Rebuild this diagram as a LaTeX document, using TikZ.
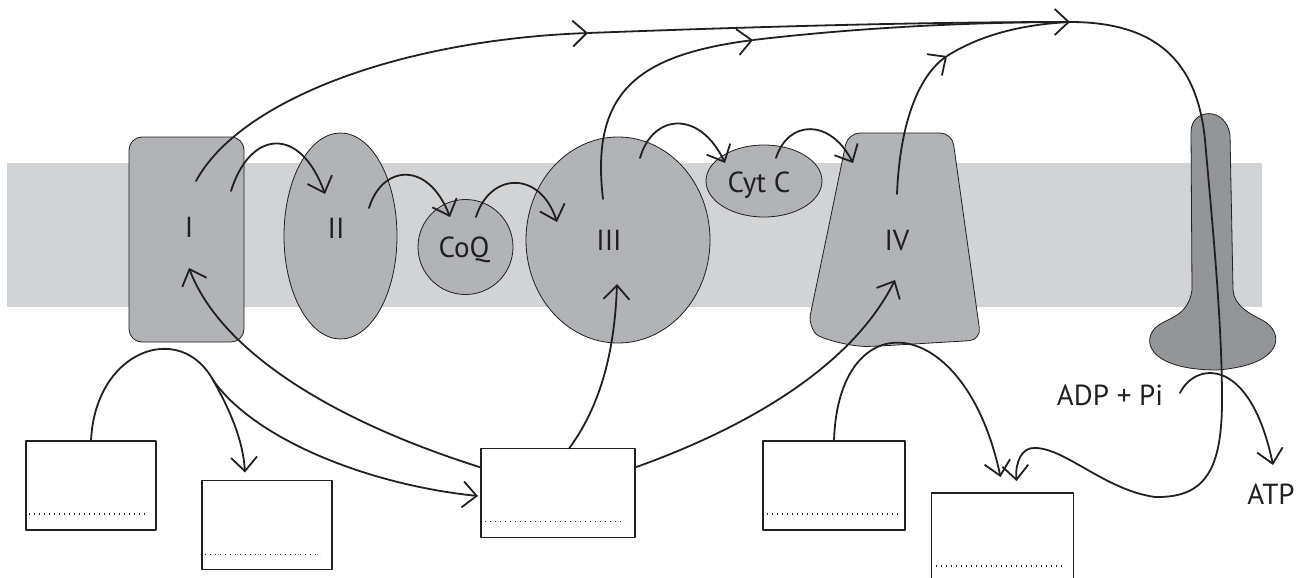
\documentclass[tikz,border=0pt]{standalone}
\usepackage{fontspec}
\setmainfont{PT Sans}
\usetikzlibrary{arrows.meta,shapes.geometric}
\definecolor{memb}{HTML}{D1D3D4}
\definecolor{cplx}{HTML}{B1B3B6}
\definecolor{atps}{HTML}{939598}
\definecolor{ink}{HTML}{231F20}
\tikzset{
  cx/.style={draw=ink, line width=0.8pt, fill=cplx, inner sep=0pt, outer sep=0pt},
  lab/.style={font=\fontsize{29}{31}\selectfont, text=ink, inner sep=0pt, anchor=base},
  flow/.style={draw=ink, line width=1.8pt},
  arr/.style={-{Straight Barb[length=14pt,width=26pt]}},
  boxn/.style={draw=ink, line width=1.8pt, fill=white, inner sep=0pt, outer sep=0pt, minimum height=89pt},
  dotl/.style={draw=ink, line width=1.4pt, dash pattern=on 1.4pt off 3.6pt, line cap=butt}
}
\begin{document}
\begin{tikzpicture}[x=1pt, y=-1pt, line join=round, line cap=round]
\useasboundingbox (0,0) rectangle (1298,578);
% membrane
\fill[memb] (7,163) rectangle (1262,307);
% complexes
\node[cx, rectangle, rounded corners=13pt, minimum width=115pt, minimum height=205pt] (cI) at (186.5,239.5) {};
\node[cx, ellipse, minimum width=113pt, minimum height=206pt] (cII) at (340.5,236) {};
\node[cx, circle, minimum size=95pt] (coq) at (465.5,247) {};
\node[cx, ellipse, minimum width=184pt, minimum height=206pt] (cIII) at (618,240) {};
\node[cx, ellipse, minimum width=116pt, minimum height=72pt] (cytc) at (764,181) {};
\draw[cx, rounded corners=12pt] (828,230) -- (848,133) -- (952,133) -- (981,340) -- (880,346)
   .. controls (850,347) and (820,338) .. (808,326) -- cycle;
\draw[cx, fill=atps] (1192,290) -- (1191,132) .. controls (1191,108) and (1226,106) .. (1230,135)
   -- (1233,290) .. controls (1234,305) and (1248,313) .. (1262,320)
   .. controls (1285,332) and (1285,365) .. (1217,370)
   .. controls (1155,370) and (1140,345) .. (1155,328)
   .. controls (1165,318) and (1188,318) .. (1192,290) -- cycle;
% labels
\node[lab] (lI) at (189,237) {I};
\node[lab] (lII) at (336,238) {II};
\node[lab] (lcoq) at (464,257) {CoQ};
\node[lab] (lIII) at (609,250) {III};
\node[lab] (lcyt) at (759,192) {Cyt C};
\node[lab] (lIV) at (897,250) {IV};
\node[lab] (adp) at (1110,405) {ADP + Pi};
\node[lab] (atp) at (1271,504) {ATP};
% boxes
\node[boxn, minimum width=130pt] (b1) at (91,485.5) {};
\node[boxn, minimum width=130pt] (b2) at (267,525) {};
\node[boxn, minimum width=154pt] (b3) at (558,493) {};
\node[boxn, minimum width=142pt] (b4) at (834,485.5) {};
\node[boxn, minimum width=142pt] (b5) at (1002.5,537.5) {};
\draw[dotl] ([xshift=3pt,yshift=16pt]b1.south west) -- ([xshift=-11pt,yshift=16pt]b1.south east);
\draw[dotl] ([xshift=3pt,yshift=15pt]b2.south west) -- ([xshift=-12pt,yshift=15pt]b2.south east);
\draw[dotl] ([xshift=4pt,yshift=16pt]b3.south west) -- ([xshift=-10pt,yshift=16pt]b3.south east);
\draw[dotl] ([xshift=4pt,yshift=16pt]b4.south west) -- ([xshift=-7pt,yshift=16pt]b4.south east);
\draw[dotl] ([xshift=4pt,yshift=16pt]b5.south west) -- ([xshift=-9pt,yshift=16pt]b5.south east);
% coordinates
\coordinate (sI) at (196,181);
\coordinate (sIII) at (603,199);
\coordinate (sIV) at (897,194);
\coordinate (m1) at (588,33);
\coordinate (m2) at (753,40);
\coordinate (m3) at (947,56);
\coordinate (mg) at (1070,22);
\coordinate (s12) at (231,191);
\coordinate (t12) at (325,194);
\coordinate (s2q) at (369,208);
\coordinate (t2q) at (450,217);
\coordinate (sq3) at (476,217);
\coordinate (tq3) at (557,222);
\coordinate (s3c) at (640,158);
\coordinate (t3c) at (725,163);
\coordinate (sc4) at (776,158);
\coordinate (tc4) at (853,163);
\coordinate (tI) at (189,268);
\coordinate (tIII) at (617,284);
\coordinate (tIV) at (895,280);
\coordinate (split) at (213,380);
\coordinate (sadp) at (1180,393);
\coordinate (tatp) at (1273,465);
% flows to the top
\draw[flow, arr] (sI) .. controls (240,100) and (400,40) .. (m1);
\draw[flow, arr] (m1) .. controls (800,25) and (950,22) .. (mg);
\draw[flow, arr] (sIII) .. controls (590,90) and (640,55) .. (m2);
\draw[flow] (m2) .. controls (880,25) and (1000,22) .. (mg);
\draw[flow, arr] (sIV) .. controls (900,120) and (920,75) .. (m3);
\draw[flow] (m3) .. controls (985,32) and (1030,24) .. (mg);
\draw[flow, arr] (mg) .. controls (1165,22) and (1198,70) .. (1205,140)
   .. controls (1212,220) and (1222,320) .. (1222,400)
   .. controls (1222,470) and (1205,498) .. (1155,497)
   .. controls (1105,490) and (1065,448) .. (1035,448)
   .. controls (1022,447) and (1015,462) .. ([xshift=14pt,yshift=12pt]b5.north);
% electron hops
\draw[flow, arr] (s12) .. controls (250,130) and (300,125) .. (t12);
\draw[flow, arr] (s2q) .. controls (382,165) and (428,160) .. (t2q);
\draw[flow, arr] (sq3) .. controls (490,172) and (540,170) .. (tq3);
\draw[flow, arr] (s3c) .. controls (653,113) and (700,110) .. (t3c);
\draw[flow, arr] (sc4) .. controls (788,120) and (830,118) .. (tc4);
% lower flows
\draw[flow] (b1.north) .. controls (95,350) and (180,320) .. (split);
\draw[flow, arr] (split) .. controls (230,410) and (243,440) .. ([xshift=-22pt,yshift=8pt]b2.north);
\draw[flow, arr] (split) .. controls (255,440) and (370,485) .. ([xshift=-3pt,yshift=-3pt]b3.west);
\draw[flow, arr] ([yshift=-19pt]b3.north west) .. controls (330,420) and (220,350) .. (tI);
\draw[flow, arr] ([xshift=88pt]b3.north west) .. controls (605,400) and (615,340) .. (tIII);
\draw[flow, arr] ([yshift=-19pt]b3.north east) .. controls (740,430) and (850,370) .. (tIV);
\draw[flow, arr] (b4.north) .. controls (838,300) and (965,310) .. ([xshift=-2pt,yshift=16pt]b5.north);
\draw[flow, arr] (sadp) .. controls (1195,362) and (1250,355) .. (tatp);
\end{tikzpicture}
\end{document}
